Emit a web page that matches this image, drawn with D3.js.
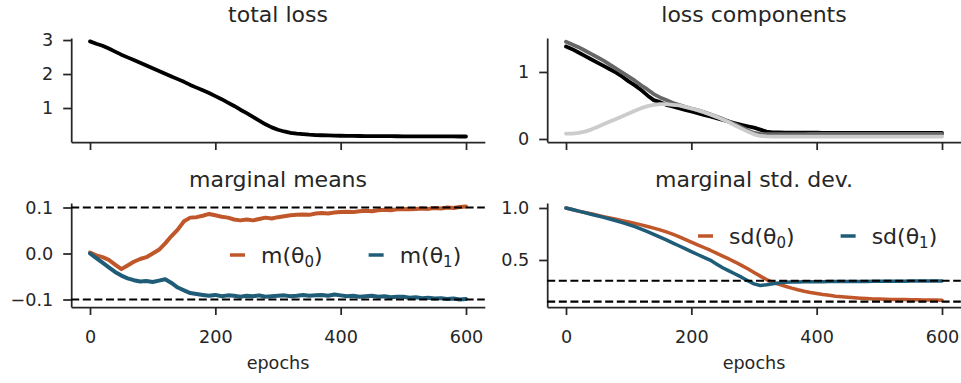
<!DOCTYPE html>
<html>
<head>
<meta charset="utf-8">
<script src="https://cdn.jsdelivr.net/npm/d3@7"></script>
<style>
  body { margin: 0; background: #fff; }
  svg text { font-family: "DejaVu Sans", sans-serif; fill: #262626; }
</style>
</head>
<body>
<svg id="fig"></svg>
<script>
// epochs sampled every 10
const epochs = d3.range(0, 601, 10);
const xTicks = [0, 200, 400, 600];

const totalLoss = [
  2.96, 2.89, 2.83, 2.75, 2.66, 2.57, 2.49, 2.41, 2.33, 2.25,
  2.17, 2.09, 2.01, 1.93, 1.85, 1.77, 1.68, 1.60, 1.52, 1.44,
  1.35, 1.26, 1.16, 1.06, 0.95, 0.85, 0.74, 0.63, 0.52, 0.43,
  0.36, 0.31, 0.27, 0.245, 0.23, 0.215, 0.205, 0.198, 0.192, 0.188,
  0.184, 0.181, 0.178, 0.176, 0.174, 0.173, 0.172, 0.171, 0.17, 0.169,
  0.168, 0.167, 0.166, 0.166, 0.165, 0.165, 0.164, 0.163, 0.163, 0.162,
  0.162
];

// loss components: black, dark gray, light gray
const lossA = [
  1.38, 1.34, 1.29, 1.24, 1.19, 1.14, 1.09, 1.04, 0.99, 0.93,
  0.86, 0.80, 0.73, 0.65, 0.58, 0.55, 0.51, 0.485, 0.46, 0.435,
  0.41, 0.385, 0.36, 0.335, 0.31, 0.285, 0.26, 0.235, 0.21, 0.19,
  0.17, 0.14, 0.11, 0.10, 0.097, 0.095, 0.094, 0.094, 0.093, 0.093,
  0.093, 0.092, 0.092, 0.092, 0.092, 0.091, 0.091, 0.091, 0.091, 0.09,
  0.09, 0.09, 0.09, 0.09, 0.09, 0.089, 0.089, 0.089, 0.089, 0.089,
  0.089
];
const lossB = [
  1.45, 1.41, 1.37, 1.32, 1.27, 1.22, 1.17, 1.11, 1.05, 0.99,
  0.93, 0.87, 0.80, 0.74, 0.67, 0.62, 0.58, 0.54, 0.51, 0.48,
  0.455, 0.43, 0.40, 0.37, 0.335, 0.30, 0.26, 0.22, 0.175, 0.13,
  0.09, 0.075, 0.072, 0.072, 0.073, 0.073, 0.074, 0.074, 0.074, 0.075,
  0.075, 0.075, 0.075, 0.075, 0.075, 0.075, 0.076, 0.076, 0.076, 0.076,
  0.076, 0.076, 0.076, 0.076, 0.076, 0.076, 0.076, 0.076, 0.076, 0.076,
  0.076
];
const lossC = [
  0.08, 0.08, 0.09, 0.11, 0.14, 0.18, 0.22, 0.26, 0.30, 0.34,
  0.38, 0.42, 0.46, 0.49, 0.51, 0.52, 0.52, 0.51, 0.50, 0.48,
  0.455, 0.43, 0.40, 0.365, 0.33, 0.29, 0.25, 0.20, 0.155, 0.11,
  0.07, 0.045, 0.038, 0.036, 0.035, 0.035, 0.035, 0.035, 0.035, 0.035,
  0.035, 0.035, 0.035, 0.035, 0.035, 0.035, 0.035, 0.035, 0.035, 0.035,
  0.035, 0.035, 0.035, 0.035, 0.035, 0.035, 0.035, 0.035, 0.035, 0.035,
  0.035
];

const mean0 = [
  0.002, -0.004, -0.008, -0.014, -0.024, -0.034, -0.026, -0.018, -0.012, -0.008,
  0.000, 0.008, 0.022, 0.038, 0.052, 0.070, 0.078, 0.079, 0.082, 0.086,
  0.083, 0.080, 0.078, 0.074, 0.072, 0.074, 0.072, 0.075, 0.078, 0.076,
  0.079, 0.081, 0.083, 0.084, 0.085, 0.084, 0.087, 0.088, 0.087, 0.089,
  0.090, 0.091, 0.090, 0.092, 0.093, 0.092, 0.094, 0.095, 0.094, 0.096,
  0.097, 0.096, 0.097, 0.098, 0.097, 0.099, 0.098, 0.100, 0.099, 0.101,
  0.102
];
const mean1 = [
  0.000, -0.010, -0.020, -0.030, -0.040, -0.048, -0.054, -0.058, -0.061, -0.060,
  -0.062, -0.059, -0.056, -0.064, -0.074, -0.080, -0.086, -0.088, -0.090, -0.092,
  -0.090, -0.093, -0.091, -0.092, -0.094, -0.092, -0.093, -0.091, -0.094, -0.093,
  -0.092, -0.091, -0.093, -0.092, -0.090, -0.092, -0.091, -0.090, -0.092, -0.089,
  -0.091, -0.093, -0.092, -0.094, -0.093, -0.092, -0.094, -0.093, -0.095, -0.094,
  -0.094, -0.096, -0.095, -0.097, -0.096, -0.098, -0.097, -0.099, -0.098, -0.100,
  -0.099
];

const sd0 = [
  1.000, 0.985, 0.970, 0.957, 0.944, 0.930, 0.917, 0.904, 0.891, 0.878,
  0.865, 0.852, 0.838, 0.822, 0.806, 0.790, 0.770, 0.748, 0.724, 0.698,
  0.672, 0.646, 0.620, 0.594, 0.566, 0.538, 0.510, 0.480, 0.448, 0.415,
  0.380, 0.345, 0.312, 0.285, 0.265, 0.248, 0.230, 0.214, 0.200, 0.188,
  0.178, 0.168, 0.160, 0.152, 0.146, 0.141, 0.136, 0.132, 0.129, 0.126,
  0.124, 0.122, 0.121, 0.120, 0.119, 0.118, 0.117, 0.116, 0.115, 0.115,
  0.114
];
const sd1 = [
  1.000, 0.985, 0.970, 0.955, 0.940, 0.925, 0.910, 0.894, 0.877, 0.859,
  0.840, 0.820, 0.797, 0.772, 0.746, 0.720, 0.693, 0.665, 0.637, 0.609,
  0.580, 0.553, 0.526, 0.499, 0.462, 0.425, 0.395, 0.365, 0.335, 0.300,
  0.270, 0.255, 0.262, 0.272, 0.280, 0.285, 0.288, 0.289, 0.290, 0.290,
  0.291, 0.291, 0.292, 0.292, 0.293, 0.293, 0.294, 0.294, 0.294, 0.295,
  0.295, 0.295, 0.296, 0.296, 0.296, 0.297, 0.297, 0.297, 0.298, 0.298,
  0.298
];

// true values (dashed reference lines)
const trueMeans = [0.1, -0.1];
const trueSds = [0.3, 0.1];

const meanLabels = [["m", "0"], ["m", "1"]];
const sdLabels = [["sd", "0"], ["sd", "1"]];

const orange = "#c0572a";
const blue = "#1f5c78";
const ink = "#262626";

const svg = d3.select("#fig").attr("width", 961).attr("height", 383);

function styleAxis(g) {
  g.attr("font-family", null).attr("font-size", null);
  g.select(".domain").attr("stroke", ink).attr("stroke-width", 1.75);
  g.selectAll(".tick line").attr("stroke", ink).attr("stroke-width", 1.75);
  g.selectAll(".tick text").attr("fill", ink).style("font-size", "17.6px");
}

function drawPanel(p) {
  const x = d3.scaleLinear().domain([-30, 630]).range(p.xr);
  const y = d3.scaleLinear().domain(p.yDomain).range(p.yr);

  const xAxis = d3.axisBottom(x).tickValues(xTicks).tickSize(8).tickSizeOuter(0).tickPadding(16)
    .tickFormat(p.xLabels ? d3.format("d") : () => "");
  svg.append("g").attr("transform", `translate(0,${p.yr[0]})`).call(xAxis).call(styleAxis);

  const yAxis = d3.axisLeft(y).tickValues(p.yTicks).tickSize(8).tickSizeOuter(0).tickPadding(10)
    .tickFormat(p.yFormat);
  svg.append("g").attr("transform", `translate(${p.xr[0]},0)`).call(yAxis).call(styleAxis);

  const line = d3.line()
    .x((d, i) => x(epochs[i]))
    .y(d => y(d));

  p.series.forEach(s => {
    svg.append("path")
      .datum(s.values)
      .attr("fill", "none")
      .attr("stroke", s.color)
      .attr("stroke-width", s.width)
      .attr("stroke-linejoin", "round")
      .attr("stroke-linecap", "round")
      .attr("d", line);
  });

  (p.hlines || []).forEach(v => {
    svg.append("line")
      .attr("x1", p.xr[0]).attr("x2", p.xr[1])
      .attr("y1", y(v)).attr("y2", y(v))
      .attr("stroke", "#000")
      .attr("stroke-width", 2.1)
      .attr("stroke-dasharray", "8,3.6");
  });

  const cx = (p.xr[0] + p.xr[1]) / 2;
  svg.append("text")
    .attr("x", cx).attr("y", p.yr[1] - 16.3)
    .attr("text-anchor", "middle")
    .style("font-size", "22px")
    .text(p.title);

  if (p.xLabels) {
    svg.append("text")
      .attr("x", cx).attr("y", p.yr[0] + 62)
      .attr("text-anchor", "middle")
      .style("font-size", "17.6px")
      .text("epochs");
  }

  if (p.legend) {
    let lx = p.legend.x;
    const ly = p.legend.y;
    p.legend.labels.forEach((lab, i) => {
      svg.append("line")
        .attr("x1", lx).attr("x2", lx + 15)
        .attr("y1", ly).attr("y2", ly)
        .attr("stroke", p.series[i].color)
        .attr("stroke-width", 3.5);
      const t = svg.append("text")
        .attr("x", lx + 31).attr("y", ly + 8)
        .style("font-size", "22px");
      t.append("tspan").text(lab[0] + "(θ");
      t.append("tspan").attr("dy", 4).style("font-size", "15px").text(lab[1]);
      t.append("tspan").attr("dy", -4).text(")");
      lx = lx + 31 + t.node().getComputedTextLength() + 46;
    });
  }
}

const xLeft = [71.2, 484.8];
const xRight = [547.2, 960.8];
const yTopRow = [142, 38];
const yBottomRow = [307, 203];

drawPanel({
  xr: xLeft, yr: yTopRow, yDomain: [0, 3.06], yTicks: [1, 2, 3], yFormat: d3.format("d"),
  xLabels: false, title: "total loss",
  series: [{ values: totalLoss, color: "#000", width: 3.8 }]
});

drawPanel({
  xr: xRight, yr: yTopRow, yDomain: [-0.045, 1.507], yTicks: [0, 1], yFormat: d3.format("d"),
  xLabels: false, title: "loss components",
  series: [
    { values: lossA, color: "#000", width: 3.8 },
    { values: lossB, color: "#666666", width: 3.8 },
    { values: lossC, color: "#cccccc", width: 3.8 }
  ]
});

drawPanel({
  xr: xLeft, yr: yBottomRow, yDomain: [-0.1163, 0.1098], yTicks: [-0.1, 0, 0.1], yFormat: d3.format(".1f"),
  xLabels: true, title: "marginal means",
  series: [
    { values: mean0, color: orange, width: 4 },
    { values: mean1, color: blue, width: 4 }
  ],
  hlines: trueMeans,
  legend: { x: 230, y: 255, labels: meanLabels }
});

drawPanel({
  xr: xRight, yr: yBottomRow, yDomain: [0.048, 1.048], yTicks: [0.5, 1.0], yFormat: d3.format(".1f"),
  xLabels: true, title: "marginal std. dev.",
  series: [
    { values: sd0, color: orange, width: 3.5 },
    { values: sd1, color: blue, width: 3.5 }
  ],
  hlines: trueSds,
  legend: { x: 698, y: 236, labels: sdLabels }
});
</script>
</body>
</html>
